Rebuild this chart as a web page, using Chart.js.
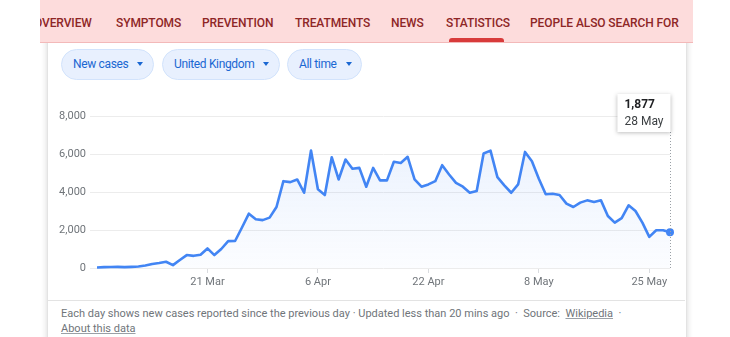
<!DOCTYPE html>
<html>
<head>
<meta charset="utf-8">
<script src="https://cdn.jsdelivr.net/npm/chart.js@4/dist/chart.umd.min.js"></script>
<style>
  html, body { margin: 0; padding: 0; background: #fff; }
  body { width: 730px; height: 337px; position: relative; overflow: hidden; font-family: Roboto, Arial, sans-serif; }
  .card { position: absolute; left: 47px; top: 20px; width: 638px; height: 340px; background: #fff;
          border: 1px solid #e3e3e3; box-shadow: 0 1px 6px rgba(32,33,36,.18); }
  .nav { position: absolute; left: 40px; top: 0; width: 653px; height: 42px; background: #fddcdc;
         border-bottom: 1px solid #f3b9b9; overflow: hidden; z-index: 2; }
  .nav span { position: absolute; top: 16px; font-size: 12px; font-weight: 500; color: #8e2626; white-space: nowrap; letter-spacing: -0.1px; }
  .nav .bar { position: absolute; left: 409px; top: 38px; width: 55px; height: 5px; background: #d83b3b; border-radius: 3px 3px 0 0; }
  .chip { position: absolute; top: 49px; height: 31px; box-sizing: border-box; border: 1px solid #d2e3fc; background: #e8f0fe;
          border-radius: 16px; font-size: 12px; color: #1a67d2; line-height: 29px; padding-left: 11px; white-space: nowrap; letter-spacing: -0.35px; }
  .chip i { display: inline-block; width: 0; height: 0; border-left: 3.5px solid transparent; border-right: 3.5px solid transparent;
            border-top: 4.5px solid #1a67d2; vertical-align: middle; margin-left: 9px; margin-top: -2px; }
  #wrap { position: absolute; left: 40px; top: 86px; width: 650px; height: 210px; }
  .sep { position: absolute; left: 48px; top: 300px; width: 637px; height: 1px; background: #e3e3e3; }
  .foot { position: absolute; left: 61px; top: 306px; width: 600px; font-size: 11px; line-height: 15px; color: #70757a; }
  .foot u { text-decoration-color: #9aa0a6; }
</style>
</head>
<body>
<div class="card"></div>
<div class="nav">
  <span style="left:-6px">OVERVIEW</span>
  <span style="left:76px">SYMPTOMS</span>
  <span style="left:162px">PREVENTION</span>
  <span style="left:255px">TREATMENTS</span>
  <span style="left:351px">NEWS</span>
  <span style="left:406px">STATISTICS</span>
  <span style="left:490px">PEOPLE ALSO SEARCH FOR</span>
  <div class="bar"></div>
</div>
<div class="chip" style="left:61px;width:93px">New cases<i></i></div>
<div class="chip" style="left:162px;width:118px">United Kingdom<i></i></div>
<div class="chip" style="left:287px;width:75px">All time<i></i></div>
<div id="wrap"><canvas id="chart"></canvas></div>
<div class="sep"></div>
<div class="foot">Each day shows new cases reported since the previous day · Updated less than 20 mins ago &nbsp;·&nbsp; Source: &nbsp;<u>Wikipedia</u> &nbsp;·<br><u>About this data</u></div>

<script>
const dates = [
  "5 Mar","6 Mar","7 Mar","8 Mar","9 Mar","10 Mar","11 Mar","12 Mar","13 Mar","14 Mar",
  "15 Mar","16 Mar","17 Mar","18 Mar","19 Mar","20 Mar","21 Mar","22 Mar","23 Mar","24 Mar",
  "25 Mar","26 Mar","27 Mar","28 Mar","29 Mar","30 Mar","31 Mar",
  "1 Apr","2 Apr","3 Apr","4 Apr","5 Apr","6 Apr","7 Apr","8 Apr","9 Apr","10 Apr",
  "11 Apr","12 Apr","13 Apr","14 Apr","15 Apr","16 Apr","17 Apr","18 Apr","19 Apr","20 Apr",
  "21 Apr","22 Apr","23 Apr","24 Apr","25 Apr","26 Apr","27 Apr","28 Apr","29 Apr","30 Apr",
  "1 May","2 May","3 May","4 May","5 May","6 May","7 May","8 May","9 May","10 May",
  "11 May","12 May","13 May","14 May","15 May","16 May","17 May","18 May","19 May",
  "21 May","22 May","23 May","24 May","25 May","26 May","27 May","28 May"
];

const newCases = [
  30, 45, 50, 60, 45, 60, 80, 130, 210, 260,
  330, 150, 420, 680, 640, 700, 1030, 680, 1000, 1415,
  1420, 2130, 2860, 2570, 2520, 2650, 3210,
  4570, 4520, 4660, 3960, 6180, 4140, 3840, 5830, 4660, 5710,
  5220, 5270, 4280, 5270, 4610, 4610, 5590, 5530, 5850, 4660,
  4280, 4400, 4570, 5410, 4920, 4480, 4280, 3960, 4050, 6030,
  6180, 4780, 4350, 3960, 4400, 6110, 5620, 4700, 3880, 3910,
  3840, 3390, 3210, 3440, 3560, 3470, 3560, 2740, 2390,
  2620, 3300, 3000, 2390, 1640, 1990, 1990, 1877
];

const xTicks = ["21 Mar", "6 Apr", "22 Apr", "8 May", "25 May"];
const yTicks = [0, 2000, 4000, 6000, 8000];

const blue = "#4285f4";
const grey = "#70757a";

// pinned tooltip on the last day, like the hover state in the screenshot
const pinPlugin = {
  id: "pin",
  afterDatasetsDraw(chart) {
    const meta = chart.getDatasetMeta(0);
    const last = newCases.length - 1;
    const pt = meta.data[last];
    const ctx = chart.ctx;
    const x = Math.round(pt.x) + 0.5;
    const boxTop = chart.chartArea.top - 22;
    const boxH = 38;

    ctx.save();
    ctx.strokeStyle = "#9aa0a6";
    ctx.lineWidth = 1;
    ctx.setLineDash([1, 2]);
    ctx.beginPath();
    ctx.moveTo(x, boxTop + boxH);
    ctx.lineTo(x, chart.chartArea.bottom + 1);
    ctx.stroke();
    ctx.setLineDash([]);

    ctx.font = "bold 12px Roboto, Arial";
    const valTxt = newCases[last].toLocaleString("en-US");
    ctx.font = "12px Roboto, Arial";
    const w = Math.max(ctx.measureText(dates[last]).width, 30) + 14;
    ctx.shadowColor = "rgba(0,0,0,0.25)";
    ctx.shadowBlur = 4;
    ctx.shadowOffsetY = 1;
    ctx.fillStyle = "#fff";
    ctx.fillRect(x - w, boxTop, w, boxH);
    ctx.shadowColor = "transparent";

    ctx.fillStyle = "#202124";
    ctx.textBaseline = "middle";
    ctx.font = "bold 12px Roboto, Arial";
    ctx.fillText(valTxt, x - w + 7, boxTop + 11);
    ctx.font = "12px Roboto, Arial";
    ctx.fillStyle = "#3c4043";
    ctx.fillText(dates[last], x - w + 7, boxTop + 28);
    ctx.restore();
  }
};

new Chart(document.getElementById("chart"), {
  type: "line",
  data: {
    labels: dates,
    datasets: [{
      data: newCases,
      borderColor: blue,
      borderWidth: 2.6,
      borderJoinStyle: "round",
      tension: 0,
      fill: true,
      clip: false,
      backgroundColor: (c) => {
        const area = c.chart.chartArea;
        if (!area) return "rgba(66,133,244,0.06)";
        const g = c.chart.ctx.createLinearGradient(0, area.top, 0, area.bottom);
        g.addColorStop(0, "rgba(66,133,244,0.12)");
        g.addColorStop(1, "rgba(66,133,244,0.02)");
        return g;
      },
      pointRadius: (c) => c.dataIndex === newCases.length - 1 ? 4 : 0,
      pointBackgroundColor: blue,
      pointBorderWidth: 0
    }]
  },
  options: {
    responsive: true,
    maintainAspectRatio: false,
    animation: false,
    layout: { padding: { top: 30, right: 20, bottom: 6, left: 0 } },
    plugins: { legend: { display: false }, tooltip: { enabled: false } },
    events: [],
    scales: {
      x: {
        offset: false,
        border: { display: false },
        grid: { drawOnChartArea: false, drawTicks: true, tickLength: 5, tickColor: "#dadce0" },
        ticks: {
          autoSkip: false, maxRotation: 0, padding: 3,
          color: grey, font: { family: "Roboto, Arial", size: 11 },
          callback(val) {
            const l = this.getLabelForValue(val);
            return xTicks.includes(l) ? l : null;
          }
        },
        afterFit(s) { s.height = 22; }
      },
      y: {
        min: 0, max: 8000,
        border: { display: false },
        grid: { color: "#ececec", drawTicks: true, tickLength: 7, tickColor: "#ececec" },
        afterBuildTicks(s) { s.ticks = yTicks.map(v => ({ value: v })); },
        ticks: {
          padding: 4, color: grey, font: { family: "Roboto, Arial", size: 11 },
          callback: (v) => v.toLocaleString("en-US")
        },
        afterFit(s) { s.width = 57; }
      }
    }
  },
  plugins: [pinPlugin]
});
</script>
</body>
</html>
